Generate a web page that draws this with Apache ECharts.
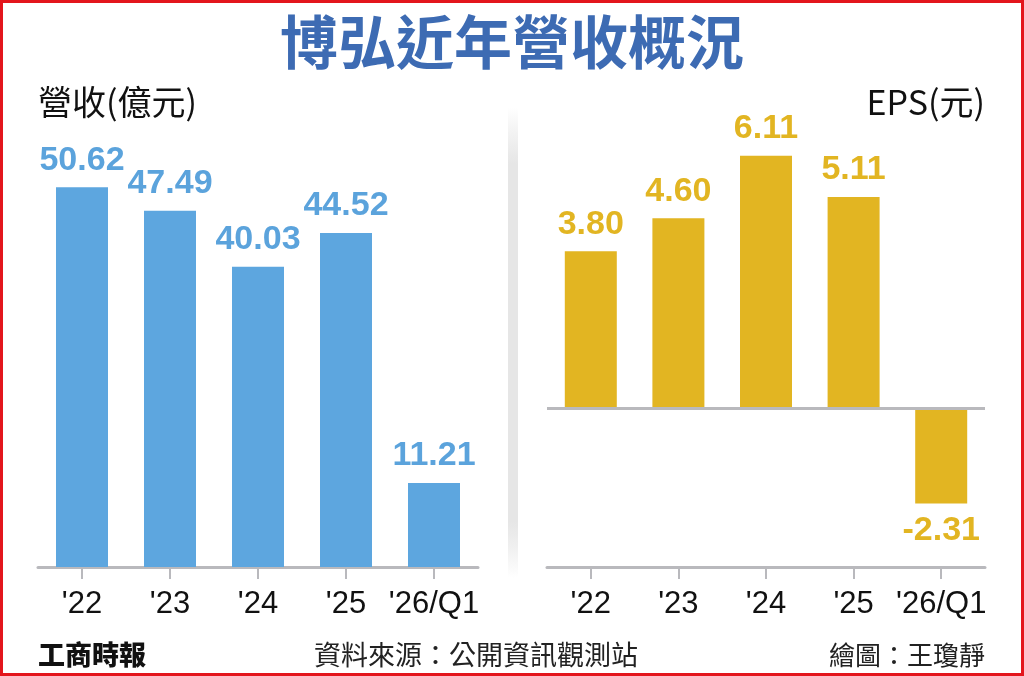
<!DOCTYPE html>
<html>
<head>
<meta charset="utf-8">
<script src="https://cdn.jsdelivr.net/npm/echarts@6/dist/echarts.min.js"></script>
<style>
  html, body { margin: 0; padding: 0; background: #fff; }
  #main { width: 1024px; height: 676px; }
</style>
</head>
<body>
<div id="main"></div>
<script>
// data
var years = ["'22", "'23", "'24", "'25", "'26/Q1"];
var revenue = [50.62, 47.49, 40.03, 44.52, 11.21]; // 億元
var eps = [3.80, 4.60, 6.11, 5.11, -2.31]; // 元

var blue = "#5da6df";
var gold = "#e2b522";
var axisGray = "#b9b9bd";
var numFont = "'Liberation Sans', Arial, sans-serif";
var cjkFont = "'Noto Sans CJK TC', 'Noto Sans CJK SC', sans-serif";

var chartDom = document.getElementById("main");
var myChart = echarts.init(chartDom);

// negative eps goes under the bar
var epsData = eps.map(function (v) {
  if (v < 0) {
    return { value: v, label: { position: "bottom", distance: 10 } };
  }
  return v;
});

function xAxisFor(gridIndex) {
  return {
    type: "category",
    gridIndex: gridIndex,
    data: years,
    axisLine: { onZero: false, lineStyle: { color: axisGray, width: 3 } },
    axisTick: { show: true, alignWithLabel: true, length: 12, lineStyle: { color: axisGray, width: 2 } },
    axisLabel: { color: "#111", fontSize: 31, fontFamily: numFont, margin: 22, interval: 0 },
    splitLine: { show: false },
  };
}

var option = {
  backgroundColor: "#fff",
  animation: false,
  grid: [
    { left: 38, top: 117, width: 440, height: 450 },
    { left: 547, top: 117, width: 438, height: 450 },
  ],
  xAxis: [xAxisFor(0), xAxisFor(1)],
  yAxis: [
    { type: "value", gridIndex: 0, min: 0, max: 60, show: false },
    { type: "value", gridIndex: 1, min: -3.85, max: 7.05, show: false },
  ],
  series: [
    {
      type: "bar",
      xAxisIndex: 0,
      yAxisIndex: 0,
      data: revenue,
      barWidth: 52,
      itemStyle: { color: blue },
      label: {
        show: true,
        position: "top",
        distance: 10,
        color: "#5ba3dc",
        fontSize: 34,
        fontWeight: "bold",
        fontFamily: numFont,
        formatter: function (p) { return p.value.toFixed(2); },
      },
    },
    {
      type: "bar",
      xAxisIndex: 1,
      yAxisIndex: 1,
      data: epsData,
      barWidth: 52,
      itemStyle: { color: gold },
      label: {
        show: true,
        position: "top",
        distance: 10,
        color: gold,
        fontSize: 34,
        fontWeight: "bold",
        fontFamily: numFont,
        formatter: function (p) { return p.value.toFixed(2); },
      },
      // zero line
      markLine: {
        silent: true,
        symbol: "none",
        label: { show: false },
        lineStyle: { color: axisGray, width: 3, type: "solid" },
        data: [{ yAxis: 0 }],
      },
    },
  ],
  graphic: [
    // divider between the two panels
    {
      type: "rect",
      shape: { x: 508, y: 108, width: 10, height: 470 },
      style: {
        fill: new echarts.graphic.LinearGradient(0, 0, 0, 1, [
          { offset: 0, color: "rgba(225,225,225,0)" },
          { offset: 0.12, color: "#e6e6e6" },
          { offset: 0.88, color: "#e6e6e6" },
          { offset: 1, color: "rgba(225,225,225,0)" },
        ]),
      },
      silent: true,
    },
    // title
    {
      type: "text",
      x: 512,
      y: 42,
      style: {
        text: "博弘近年營收概況",
        fill: "#3d6bb3",
        font: "bold 58px " + cjkFont,
        textAlign: "center",
        textVerticalAlign: "middle",
      },
    },
    {
      type: "text",
      x: 38,
      y: 102,
      style: {
        text: "營收(億元)",
        fill: "#111",
        font: "34px " + cjkFont,
        textAlign: "left",
        textVerticalAlign: "middle",
      },
    },
    {
      type: "text",
      x: 985,
      y: 102,
      style: {
        text: "EPS(元)",
        fill: "#111",
        font: "34px " + cjkFont,
        textAlign: "right",
        textVerticalAlign: "middle",
      },
    },
    // footer
    {
      type: "text",
      x: 38,
      y: 655,
      style: {
        text: "工商時報",
        fill: "#111",
        font: "900 27px " + cjkFont,
        textAlign: "left",
        textVerticalAlign: "middle",
      },
    },
    {
      type: "text",
      x: 476,
      y: 655,
      style: {
        text: "資料來源：公開資訊觀測站",
        fill: "#222",
        font: "27px " + cjkFont,
        textAlign: "center",
        textVerticalAlign: "middle",
      },
    },
    {
      type: "text",
      x: 985,
      y: 655,
      style: {
        text: "繪圖：王瓊靜",
        fill: "#222",
        font: "26px " + cjkFont,
        textAlign: "right",
        textVerticalAlign: "middle",
      },
    },
    // red frame
    {
      type: "rect",
      shape: { x: 1.5, y: 1.5, width: 1021, height: 673 },
      style: { fill: null, stroke: "#e3151c", lineWidth: 3 },
      silent: true,
    },
  ],
};

option && myChart.setOption(option);
</script>
</body>
</html>
